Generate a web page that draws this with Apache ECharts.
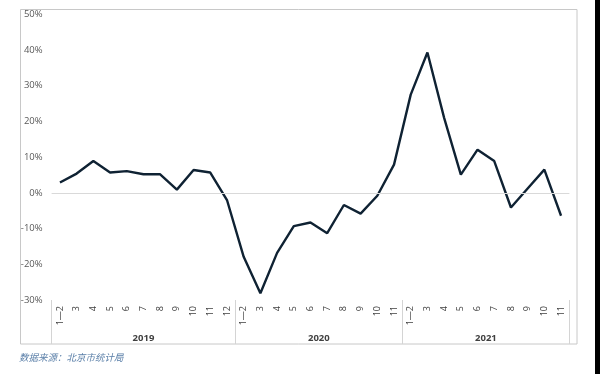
<!DOCTYPE html>
<html>
<head>
<meta charset="utf-8">
<script src="https://cdn.jsdelivr.net/npm/echarts@6/dist/echarts.min.js"></script>
<style>html,body{margin:0;padding:0;background:#fff;}#c{width:600px;height:374px;}</style>
</head>
<body>
<div id="c"></div>
<script>
// Month categories (2019: 1—2..12, 2020: 1—2..11, 2021: 1—2..11)
const months = ['1—2','3','4','5','6','7','8','9','10','11','12',
                '1—2','3','4','5','6','7','8','9','10','11',
                '1—2','3','4','5','6','7','8','9','10','11'];
// Growth values (%)
const values = [2.9,5.4,8.9,5.7,6.1,5.2,5.2,0.9,6.4,5.7,-2.0,
                -17.9,-28.1,-16.8,-9.3,-8.3,-11.3,-3.4,-5.8,-0.8,7.9,
                27.5,39.3,21.0,5.1,12.1,8.9,-4.1,1.2,6.5,-6.4];
// Year group labels and their center positions (category index units)
const years = ['2019','2020','2021'];
const yearCenters = [5, 15.5, 25.5];
// Indices of first category of each year (group separators)
const groupStarts = [0, 11, 21];
const yTicks = {min: -30, max: 50, interval: 10};
const sourceText = '数据来源：北京市统计局';

const chart = echarts.init(document.getElementById('c'), null, {renderer: 'canvas'});
const font = '"Open Sans", "Noto Sans", sans-serif';
chart.setOption({
  animation: false,
  backgroundColor: '#fff',
  graphic: [
    {type: 'rect', shape: {x: 20.5, y: 9.5, width: 556.5, height: 334.5},
     style: {fill: 'none', stroke: '#c8c8c8', lineWidth: 1}, silent: true, z: -1},
    {type: 'rect', shape: {x: 595, y: 0, width: 5, height: 374},
     style: {fill: '#000'}, silent: true},
    {type: 'text', left: 19, top: 353,
     style: {text: sourceText, fill: '#5a7fa8', fontSize: 9.5, fontStyle: 'italic',
             fontFamily: '"Noto Sans CJK SC", sans-serif'}}
  ],
  grid: {left: 51.6, right: 30.6, top: 14.3, bottom: 74, containLabel: false},
  xAxis: [
    {
      type: 'category', data: months, boundaryGap: true, position: 'bottom',
      axisLine: {show: false, onZero: false},
      axisTick: {show: true, length: 44, interval: (i) => groupStarts.indexOf(i) >= 0,
                 lineStyle: {color: '#d4d4d4', width: 1}},
      axisLabel: {interval: 0, rotate: 90, margin: 6, fontSize: 9, color: '#404040',
                  fontFamily: font},
      splitLine: {show: false}
    },
    {
      type: 'value', min: -0.5, max: 30.5, interval: 0.5, position: 'bottom',
      axisLine: {show: false, onZero: false}, axisTick: {show: false}, splitLine: {show: false},
      axisLabel: {
        margin: 33, fontSize: 9.5, fontWeight: 'bold', color: '#404040', fontFamily: font,
        showMinLabel: false, showMaxLabel: false,
        formatter: (v) => { const k = yearCenters.indexOf(v); return k >= 0 ? years[k] : ''; }
      }
    }
  ],
  yAxis: {
    type: 'value', min: yTicks.min, max: yTicks.max, interval: yTicks.interval,
    axisLine: {show: false}, axisTick: {show: false}, splitLine: {show: false},
    axisLabel: {formatter: '{value}%', fontSize: 9.5, color: '#595959', margin: 9,
                fontFamily: font}
  },
  series: [{
    type: 'line', data: values, xAxisIndex: 0, symbol: 'none',
    lineStyle: {color: '#0f2233', width: 2.4},
    markLine: {
      silent: true, symbol: 'none', label: {show: false},
      lineStyle: {color: '#d9d9d9', width: 1.2, type: 'solid'},
      data: [{yAxis: 0}]
    },
    z: 3
  }]
});
</script>
</body>
</html>
